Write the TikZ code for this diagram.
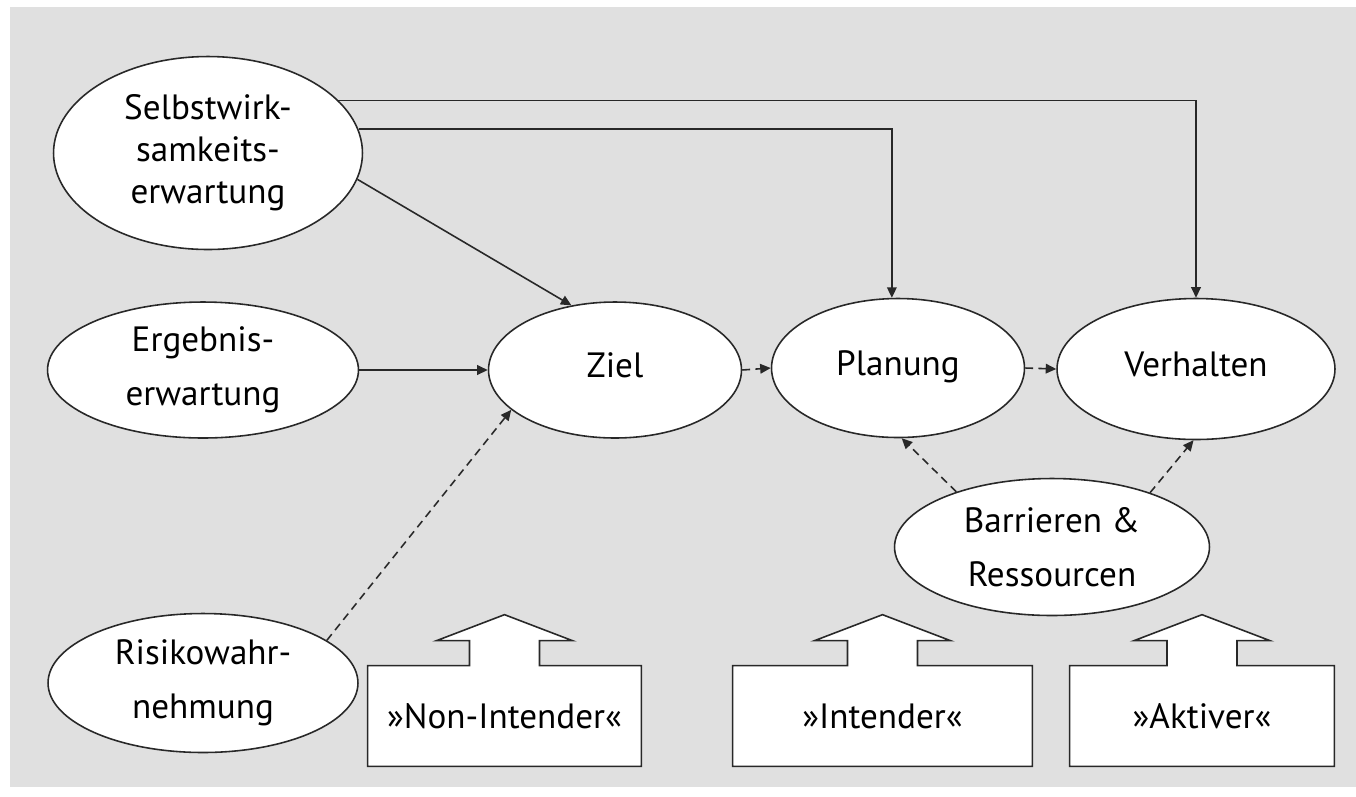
\documentclass[tikz,border=0pt]{standalone}
\usepackage{fontspec}
\setmainfont{PT Sans}
\usepackage{tikz}
\usetikzlibrary{arrows.meta,calc,shapes.geometric,backgrounds}
\definecolor{bggray}{RGB}{224,224,224}
\definecolor{linegray}{RGB}{40,40,40}

\begin{document}
\begin{tikzpicture}[x=0.02cm, y=-0.02cm,
  oval/.style={ellipse, draw=linegray, line width=0.9pt, fill=white, inner sep=0pt,
    align=center, font=\fontsize{20}{30.7}\selectfont},
  single/.style={text depth=0.55em},
  conn/.style={draw=linegray, line width=0.9pt, -{Triangle[length=6pt,width=5.5pt]}},
  dconn/.style={conn, dash pattern=on 4.5pt off 3pt},
  tag/.style={inner sep=0pt, minimum height=2cm, font=\fontsize{20}{30.7}\selectfont},
  outline/.style={draw=linegray, line width=0.9pt, fill=white, line join=miter}]

\useasboundingbox (0,0) rectangle (1356,796);
% Background
\begin{scope}[on background layer]
\fill[bggray] (10,7) rectangle (1356,787);
\end{scope}

% Left column
\node[oval, minimum width=6.18cm, minimum height=3.86cm, font=\fontsize{20}{23.8}\selectfont]
    (selbst) at (208,153) {Selbstwirk-\\samkeits-\\erwartung};
\node[oval, minimum width=6.22cm, minimum height=2.72cm] (ergeb) at (203,370) {Ergebnis-\\erwartung};
\node[oval, minimum width=6.2cm, minimum height=2.78cm] (risiko) at (203,683) {Risikowahr-\\nehmung};

% Middle row
\node[oval, single, minimum width=5.06cm, minimum height=2.72cm] (ziel) at (615,370) {Ziel};
\node[oval, single, minimum width=5.06cm, minimum height=2.78cm] (planung) at (898,368) {Planung};
\node[oval, single, minimum width=5.56cm, minimum height=2.82cm] (verhalten) at (1196,369) {Verhalten};
\node[oval, minimum width=6.3cm, minimum height=2.74cm] (barr) at (1052,547) {Barrieren \&\\Ressourcen};

% Stage boxes
\node[tag, minimum width=5.46cm] (nonint) at (504.5,716) {»Non-Intender«};
\node[tag, minimum width=5.98cm] (intend) at (882.5,716) {»Intender«};
\node[tag, minimum width=5.28cm] (aktiv) at (1202,716) {»Aktiver«};

% Box outlines with upward block arrows
\begin{scope}[on background layer]
\foreach \b in {nonint,intend,aktiv}{
  \draw[outline] (\b.south west) -- (\b.north west) -- ($(\b.north)+(-35,0)$) -- ++(0,-25)
    -- ++(-33,0) -- ($(\b.north)+(0,-51)$) -- ($(\b.north)+(68,-25)$) -- ++(-33,0)
    -- ++(0,25) -- (\b.north east) -- (\b.south east) -- cycle;
}
\end{scope}

% Solid connectors
\draw[conn] (selbst.22) -| (verhalten.north);
\draw[conn] (selbst.9) -| (planung.95);
\draw[conn] (selbst.-10) -- (ziel.124);
\draw[conn] (ergeb.east) -- (ziel.west);

% Dashed connectors
\draw[dconn] (risiko.19) -- (ziel.201);
\draw[dconn] (ziel.east) -- (planung.west);
\draw[dconn] (planung.east) -- (verhalten.west);
\draw[dconn] (barr.150) -- (planung.273);
\draw[dconn] (barr.29) -- (verhalten.268);
\end{tikzpicture}
\end{document}
